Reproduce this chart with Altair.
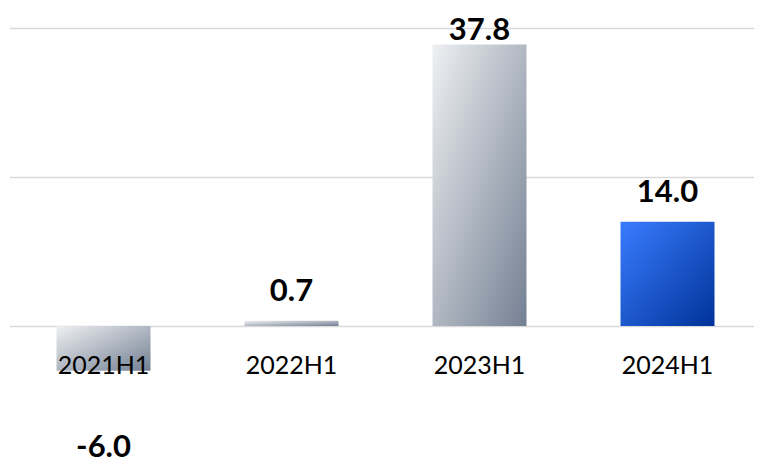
import altair as alt
import pandas as pd

periods = ["2021H1", "2022H1", "2023H1", "2024H1"]
values = [-6.0, 0.7, 37.8, 14.0]
highlight = [False, False, False, True]
y_ticks = [0, 20, 40]

df = pd.DataFrame({"period": periods, "value": values, "hl": highlight})
df["txt"] = [f"{v:.1f}" for v in values]

grey = alt.LinearGradient(
    gradient="linear", x1=0, y1=0, x2=1, y2=1,
    stops=[alt.GradientStop(color="#eef0f2", offset=0),
           alt.GradientStop(color="#748093", offset=1)],
)
blue = alt.LinearGradient(
    gradient="linear", x1=0, y1=0, x2=1, y2=1,
    stops=[alt.GradientStop(color="#3a7cff", offset=0),
           alt.GradientStop(color="#003399", offset=1)],
)

xscale = alt.Scale(paddingInner=0.5, paddingOuter=0.25, range=[0, 752])
x = alt.X("period:N", sort=periods, title=None, scale=xscale,
          axis=alt.Axis(labelAngle=0, domain=False, ticks=False, tickSize=0,
                        labelPadding=47, labelBaseline="alphabetic",
                        labelFont="Lato", labelFontSize=25, labelColor="#000000",
                        grid=False, zindex=1))
y = alt.Y("value:Q", title=None,
          scale=alt.Scale(domain=[0, 40], nice=False, zero=True),
          axis=alt.Axis(values=y_ticks, labels=False, domain=False, ticks=False,
                        grid=True, gridColor="#d9d9d9", gridWidth=1.5, zindex=0))

base = alt.Chart(df)

bars_grey = base.transform_filter("!datum.hl").mark_bar(color=grey).encode(x=x, y=y)
bars_blue = base.transform_filter("datum.hl").mark_bar(color=blue).encode(x=x, y=y)

# value labels sit 20px above the bar, kept inside the chart area at the top
lab_pos = base.transform_filter("datum.value >= 0").transform_calculate(
    lp="min(datum.value, 35.7)",
).mark_text(font="Lato", fontWeight="bold", fontSize=31, color="#000000",
            baseline="alphabetic", dy=-20).encode(
    x=alt.X("period:N", sort=periods),
    y=alt.Y("lp:Q"),
    text="txt:N",
)
lab_neg = base.transform_filter("datum.value < 0").mark_text(
    font="Lato", fontWeight="bold", fontSize=31, color="#000000",
    baseline="alphabetic", dy=86).encode(
    x=alt.X("period:N", sort=periods),
    y=alt.Y("value:Q"),
    text="txt:N",
)

chart = alt.layer(bars_grey, bars_blue, lab_pos, lab_neg).properties(
    width=744.5, height=298,
    autosize=alt.AutoSizeParams(type="none"),
    padding={"left": 1.5, "top": 20, "right": 0, "bottom": 138},
).configure_view(stroke=None)

chart.save("out.html", embed_options={"renderer": "svg", "actions": False})
